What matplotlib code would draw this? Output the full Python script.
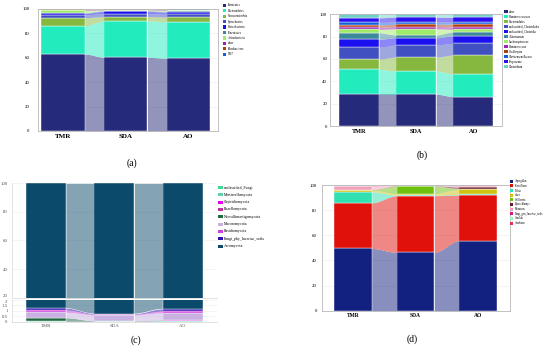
import numpy as np
import matplotlib
matplotlib.use("Agg")
from matplotlib import pyplot as plt
from matplotlib.patches import Rectangle

plt.rcParams['font.family'] = ['Liberation Serif', 'DejaVu Serif']

groups = ['TMR', 'SDA', 'AO']

# (a) phylum level, bacteria
a_names = ['Firmicutes', 'Bacteroidetes', 'Verrucomicrobia', 'Spirochaetes', 'Proteobacteria',
           'Tenericutes', 'Actinobacteria', 'other', 'Fibrobacteres', 'TM7']
a_tmr = [63.1, 23.2, 6.6, 2.4, 1.2, 0.6, 1.8, 0.5, 0.3, 0.3]
a_sda = [60.4, 29.8, 3.5, 2.4, 2.0, 0.5, 0.6, 0.3, 0.2, 0.3]
a_ao = [59.6, 30.0, 3.8, 2.3, 1.8, 0.6, 0.7, 0.4, 0.3, 0.5]
a_colors = ['#262a7a', '#22ecbe', '#86b840', '#4050c0', '#1a10f0',
            '#3a8898', '#a0ea6a', '#a020b8', '#b04010', '#1060e0']

# (b) genus level, bacteria
b_names = ['other', 'Ruminococcaceae', 'Bacteroidales', 'unclassified_Clostridiales',
           'unclassified_Clostridia', 'Akkermansia', 'Lachnospiraceae', 'Ruminococcus',
           'Oscillospira', 'Christensenellaceae', 'Treponema', 'Clostridium']
b_tmr = [28.4, 22.3, 9.3, 10.5, 7.1, 5.9, 3.0, 1.8, 2.2, 2.3, 4.0, 3.2]
b_sda = [28.4, 20.8, 12.5, 10.8, 6.5, 2.5, 5.5, 2.0, 2.0, 2.0, 4.5, 2.5]
b_ao = [26.3, 20.3, 17.0, 10.4, 6.6, 3.6, 2.4, 2.0, 2.7, 2.0, 4.0, 2.7]
b_colors = ['#262a7a', '#22ecbe', '#86b840', '#4050c0', '#1a10f0', '#3a8898',
            '#a0ea6a', '#a020b8', '#b04010', '#1060e0', '#2a10f0', '#70d0c8']

# (c) phylum level, fungi (stack order bottom -> top)
c_names = ['unclassified_Fungi', 'Mortierellomycota', 'Chytridiomycota', 'Rozellomycota',
           'Neocallimastigomycota', 'Mucoromycota', 'Basidiomycota',
           'Fungi_phy_Incertae_sedis', 'Ascomycota']
c_tmr = [0.02, 0.02, 0.02, 0.02, 0.28, 0.50, 0.20, 0.20, 98.74]
c_sda = [0.02, 0.01, 0.01, 0.01, 0.03, 0.55, 0.06, 0.05, 99.26]
c_ao = [0.08, 0.03, 0.02, 0.02, 0.02, 0.65, 0.15, 0.22, 98.81]
c_colors = ['#40d890', '#60d0b0', '#e000f0', '#c030a0', '#206840',
            '#c8b0e0', '#d040e0', '#3010b0', '#0b4a6b']

# (d) genus level, fungi
d_names = ['Aspergillus', 'Penicillium', 'Pichia', 'other', 'Wallemia', 'Byssochlamys',
           'Monascus', 'Fungi_gen_Incertae_sedis', 'Candida', 'Acaulium']
d_tmr = [49.5, 36.3, 8.8, 1.3, 0.3, 0.2, 3.0, 0.2, 0.2, 0.2]
d_sda = [46.4, 45.1, 0.4, 1.2, 6.0, 0.3, 0.4, 0.1, 0.05, 0.05]
d_ao = [55.7, 36.3, 0.5, 4.1, 0.6, 1.3, 1.0, 0.2, 0.1, 0.2]
d_colors = ['#122080', '#e0100a', '#30e0b0', '#d0c010', '#70c010',
            '#701830', '#f0a0b8', '#e01080', '#a0f0d0', '#e03050']

W, H = 550, 351
fig = plt.figure(figsize=(W / 100, H / 100), dpi=100)


def px_axes(x0, y0, x1, y1):
    return fig.add_axes([x0 / W, 1 - y1 / H, (x1 - x0) / W, (y1 - y0) / H])


def alluvial(ax, cols, colors, width):
    vals = np.array(cols).T  # taxa x groups
    tops = np.cumsum(vals, axis=0)
    bots = tops - vals
    x = np.arange(len(groups))
    for k in range(vals.shape[0]):
        ax.bar(x, vals[k], bottom=bots[k], width=width, color=colors[k],
               edgecolor='white', linewidth=0.3, zorder=2)
        for j in range(len(groups) - 1):
            xs = np.linspace(j + width / 2, j + 1 - width / 2, 60)
            t = (xs - xs[0]) / (xs[-1] - xs[0])
            s = t * t * (3 - 2 * t)
            lo = bots[k, j] + (bots[k, j + 1] - bots[k, j]) * s
            hi = tops[k, j] + (tops[k, j + 1] - tops[k, j]) * s
            ax.fill_between(xs, lo, hi, color=colors[k], alpha=0.5, linewidth=0, zorder=2)
            ax.plot(xs, hi, color='white', lw=0.3, alpha=0.7, zorder=2)


def style(ax, xlim, ylim, ypad, xsize, bold=True, spine='#b8b8b8', xcolor='black'):
    ax.set_xlim(*xlim)
    ax.set_ylim(*ylim)
    ax.set_xticks(range(len(groups)))
    ax.set_xticklabels(groups, fontsize=xsize, fontweight='bold' if bold else 'normal',
                       color=xcolor)
    ax.tick_params(axis='y', labelsize=3.5, length=0, pad=ypad)
    ax.tick_params(axis='x', length=0, pad=2)
    ax.grid(axis='y', color='#ececec', lw=0.4, zorder=0)
    ax.set_axisbelow(True)
    for sp in ax.spines.values():
        sp.set_color(spine)
        sp.set_linewidth(0.6)


def legend(names, colors, x, y0, y1, size, box=(3.6, 3.2)):
    step = (y1 - y0) / (len(names) - 1)
    for i, (n, c) in enumerate(zip(names, colors)):
        y = y0 + i * step
        fig.patches.append(Rectangle((x / W, 1 - (y + box[1] / 2) / H), box[0] / W, box[1] / H,
                                     transform=fig.transFigure, facecolor=c, edgecolor='none'))
        fig.text((x + box[0] + 1.5) / W, 1 - y / H, n, fontsize=size, va='center', ha='left')


# (a)
ax = px_axes(38, 9, 218, 131)
alluvial(ax, [a_tmr, a_sda, a_ao], a_colors, 0.69)
style(ax, (-0.40, 2.47), (0, 100), 6, 5)
ax.set_yticks(range(0, 101, 20))
legend(a_names, a_colors, 222.7, 5.3, 54.3, 2.2)
fig.text(132 / W, 1 - 163 / H, '(a)', fontsize=7, ha='center', va='center')

# (b)
ax = px_axes(330, 14.3, 502, 126)
alluvial(ax, [b_tmr, b_sda, b_ao], b_colors, 0.70)
style(ax, (-0.507, 2.50), (0, 100), 2, 4.5)
ax.set_yticks(range(0, 101, 20))
legend(b_names, b_colors, 504, 11.7, 66.7, 2.2)
fig.text(422 / W, 1 - 155 / H, '(b)', fontsize=7, ha='center', va='center')

# (c) broken axis
ax_top = px_axes(11.7, 183.3, 217, 297.7)
ax_bot = px_axes(11.7, 300, 217, 321.7)
for a in (ax_top, ax_bot):
    alluvial(a, [c_tmr, c_sda, c_ao], c_colors, 0.585)
style(ax_top, (-0.5, 2.5), (20, 100), 3, 3.5, bold=False, spine='#dddddd')
ax_top.set_yticks(range(20, 101, 20))
ax_top.set_xticks([])
style(ax_bot, (-0.5, 2.5), (0, 2), 3, 3.5, bold=False, spine='#dddddd', xcolor='#555555')
ax_bot.set_yticks([0, 0.5, 1, 1.5, 2])
ax_bot.set_yticklabels(['0', '0.5', '1', '1.5', '2'])
for a in (ax_top, ax_bot):
    a.spines['top'].set_visible(False)
    a.spines['right'].set_visible(False)
    a.tick_params(axis='y', labelcolor='#555555')
ax_top.get_yticklabels()[0].set_va('bottom')
ax_bot.get_yticklabels()[-1].set_va('top')
legend(c_names, c_colors, 218.3, 187.5, 246, 2.8, box=(4.3, 3.0))
fig.text(136 / W, 1 - 340 / H, '(c)', fontsize=7, ha='center', va='center')

# (d)
ax = px_axes(321.7, 185, 510, 310.7)
alluvial(ax, [d_tmr, d_sda, d_ao], d_colors, 0.60)
style(ax, (-0.50, 2.51), (0, 100), 3.5, 4)
ax.set_yticks(range(0, 101, 20))
legend(d_names, d_colors, 510, 181.3, 223, 1.9, box=(3.3, 3.0))
fig.text(412 / W, 1 - 339 / H, '(d)', fontsize=7, ha='center', va='center')

fig.savefig('out.png', dpi=100)
